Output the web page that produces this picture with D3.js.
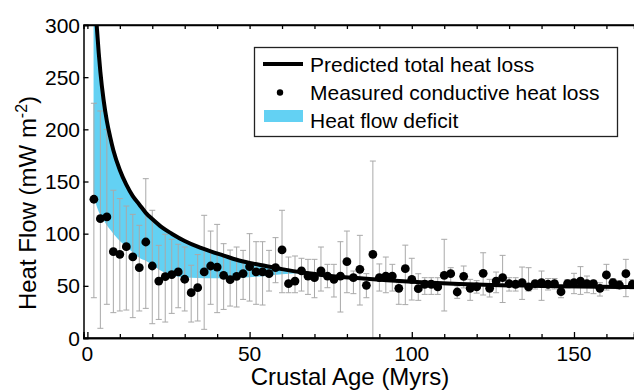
<!DOCTYPE html>
<html>
<head>
<meta charset="utf-8">
<script src="https://cdn.jsdelivr.net/npm/d3@7"></script>
<style>
  body { margin: 0; background: #fff; }
  svg { display: block; font-family: "Liberation Sans", Arial, sans-serif; }
  .tick-label { font-size: 21px; fill: #000; }
  .axis-title { font-size: 24px; fill: #000; }
  .legend-text { font-size: 21px; fill: #000; }
</style>
</head>
<body>
<svg id="chart"></svg>
<script>
// HEAT FLOW VS CRUSTAL AGE

// MEASURED CONDUCTIVE HEAT LOSS (binned means, 2 Myr bins)
var ages = [2, 4, 6, 8, 10, 12, 14, 16, 18, 20, 22, 24, 26, 28, 30, 32, 34, 36, 38, 40,
	42, 44, 46, 48, 50, 52, 54, 56, 58, 60, 62, 64, 66, 68, 70, 72, 74, 76, 78, 80,
	82, 84, 86, 88, 90, 92, 94, 96, 98, 100, 102, 104, 106, 108, 110, 112, 114, 116, 118, 120,
	122, 124, 126, 128, 130, 132, 134, 136, 138, 140, 142, 144, 146, 148, 150, 152, 154, 156, 158, 160,
	162, 164, 166, 168];
var measured = [133, 114.4, 116, 82.7, 80.2, 87.5, 77.7, 67.4, 92, 69, 54.6, 58.8, 60.7, 63.3, 56.3, 43.4, 48.2, 63.3, 69, 68,
	60.1, 55.9, 59.1, 61.7, 68.4, 63.3, 63.3, 61.7, 67.5, 84.4, 52.1, 54.6, 64.3, 59.4, 57.8, 64.3, 59.4, 56.2, 59.4, 73.2,
	57.8, 65.8, 50.5, 80.2, 57.8, 59.4, 59.4, 47.6, 66.4, 56.2, 47.3, 51.5, 51.5, 49, 60.1, 61.7, 44.1, 59.1, 47.6, 49,
	62, 47.6, 54.6, 57.8, 52.1, 51.5, 53.1, 49, 52.1, 53.1, 51.5, 52.1, 44.4, 52.1, 53.1, 54.6, 52.1, 52.1, 47.6, 60.4,
	53.1, 50.8, 61.7, 51.5];
var errHigh = [225, 217.6, 200, 141.6, 133.6, 126.5, 118.5, 108, 152.7, 122.4, 88.8, 99.4, 94.6, 89.8, 87.2, 69.7, 80, 117.6, 102.5, 108.9,
	90.4, 84.3, 87.2, 84, 100, 92.3, 92.3, 84, 96.2, 122.4, 77.6, 78.6, 76.4, 75.4, 75.4, 87.2, 70.6, 70.6, 92.3, 102.5,
	64.2, 98.4, 61.7, 169.6, 71, 77.6, 70.6, 53, 89, 76.4, 61.6, 57.8, 57.8, 57.8, 94.6, 67.4, 50, 69, 56.2, 55,
	81.7, 56.2, 63.2, 79.2, 57.8, 57.8, 68, 67.4, 54, 64.2, 57, 57, 50, 56, 62, 68.4, 59.4, 55.3, 53, 70.6,
	57, 55, 75.4, 56];
var errLow = [38.6, 9.3, 32.3, 24.3, 25.9, 26.8, 19.5, 25.9, 28.4, 13.7, 17.8, 15.3, 23.6, 29, 25.9, 15.3, 16.3, 8.3, 32.3, 24.3,
	27.4, 30.6, 29.7, 37, 35.4, 32.3, 31.6, 45, 53, 43.4, 43.4, 43.4, 45, 41.8, 38.6, 45, 48.2, 39.3, 24.9, 43.4,
	42.5, 31.6, 38.6, -1, 45, 43.4, 45, 32.3, 32, 36.4, 36.1, 41.8, 41.8, 41.8, 25.9, 53, 38, 48, 36.1, 43,
	41.2, 39.3, 43.4, 34, 45, 45, 37, 45, 47, 36.1, 46, 47, 38.6, 48, 42.5, 41.8, 43.4, 42.5, 40.2, 46,
	49, 47, 39.6, 47];

// PREDICTED TOTAL HEAT LOSS
var predAges = [1.9, 2.8, 3, 3.5, 4, 5, 6, 7, 8, 10, 12, 14, 16, 18, 20, 23, 26, 30, 34, 38,
	42, 46, 50, 55, 60, 67, 75, 85, 100, 120, 140, 170];
var predFlow = [370, 303, 294, 273, 255, 228, 208, 193, 180, 161, 147, 136, 128, 120, 114, 106, 100, 93, 87.5, 83,
	79, 75, 72, 69, 66, 62.5, 59.5, 57, 54, 51.3, 49.8, 48.8];

// LOWER EDGE OF THE DEFICIT BAND (same ages as predAges, up to 67 Myr)
var deficitLow = [140, 127, 125, 121, 118, 113, 108, 104, 100, 93, 88, 82, 77, 74, 70, 64, 60.5, 58, 57.5, 57.3,
	57.3, 57.6, 58.2, 59.5, 61, 62.5];

// TICKS
var xTicksMajor = [0, 50, 100, 150];
var xTicksMinor = [10, 20, 30, 40, 60, 70, 80, 90, 110, 120, 130, 140, 160];
var yTicks = [0, 50, 100, 150, 200, 250, 300];

var legendLabels = ["Predicted total heat loss", "Measured conductive heat loss", "Heat flow deficit"];

// DRAWING AREA
var width = 634;
var height = 391;
var plotLeft = 83.5;
var plotRight = 634;
var plotTop = 25;
var plotBottom = 338;
var blue = "#63d1f3";

var svg = d3.select("#chart")
	.attr("width", width)
	.attr("height", height);

var xScale = d3.scaleLinear()
	.domain([-1.2, 168.5])
	.range([plotLeft, plotRight]);

var yScale = d3.scaleLinear()
	.domain([0, 300])
	.range([plotBottom, plotTop]);

svg.append("defs").append("clipPath")
	.attr("id", "plotclip")
	.append("rect")
	.attr("x", plotLeft)
	.attr("y", plotTop)
	.attr("width", plotRight - plotLeft)
	.attr("height", plotBottom - plotTop);

var plot = svg.append("g").attr("clip-path", "url(#plotclip)");

// DEFICIT AREA
var deficit = deficitLow.map(function(d, i) {
	return { age: predAges[i], top: predFlow[i], low: d };
});

var area = d3.area()
	.x(function(d) { return xScale(d.age); })
	.y0(function(d) { return yScale(d.low); })
	.y1(function(d) { return yScale(d.top); })
	.curve(d3.curveMonotoneX);

plot.append("path")
	.datum(deficit)
	.attr("d", area)
	.style("fill", blue)
	.style("stroke", "none");

// ERROR BARS
var points = ages.map(function(a, i) {
	return { age: a, flow: measured[i], hi: errHigh[i], lo: errLow[i] };
});

var bars = plot.selectAll("g.errbar")
	.data(points)
	.enter()
	.append("g")
	.attr("class", "errbar")
	.style("stroke", "#a9a9a9")
	.style("stroke-width", 1);

bars.append("line")
	.attr("x1", function(d) { return xScale(d.age); })
	.attr("x2", function(d) { return xScale(d.age); })
	.attr("y1", function(d) { return yScale(d.hi); })
	.attr("y2", function(d) { return yScale(d.lo); });

bars.append("line")
	.attr("x1", function(d) { return xScale(d.age) - 3; })
	.attr("x2", function(d) { return xScale(d.age) + 3; })
	.attr("y1", function(d) { return yScale(d.hi); })
	.attr("y2", function(d) { return yScale(d.hi); });

bars.append("line")
	.attr("x1", function(d) { return xScale(d.age) - 3; })
	.attr("x2", function(d) { return xScale(d.age) + 3; })
	.attr("y1", function(d) { return yScale(d.lo); })
	.attr("y2", function(d) { return yScale(d.lo); });

// PREDICTED LINE
var line = d3.line()
	.x(function(d, i) { return xScale(predAges[i]); })
	.y(function(d) { return yScale(d); })
	.curve(d3.curveMonotoneX);

plot.append("path")
	.datum(predFlow)
	.attr("d", line)
	.style("fill", "none")
	.style("stroke", "#000")
	.style("stroke-width", 4);

// MEASURED POINTS
plot.selectAll("circle")
	.data(points)
	.enter()
	.append("circle")
	.attr("cx", function(d) { return xScale(d.age); })
	.attr("cy", function(d) { return yScale(d.flow); })
	.attr("r", 4.4)
	.style("fill", "#000");

// AXES (frame with inward ticks)
var xAxisMajor = d3.axisBottom(xScale).tickValues(xTicksMajor).tickSize(-6).tickFormat("");
var xAxisMinor = d3.axisBottom(xScale).tickValues(xTicksMinor).tickSize(-4).tickFormat("");
var xAxisTop = d3.axisTop(xScale).tickValues(xTicksMajor.concat(xTicksMinor)).tickSize(-4).tickFormat("");
var yAxis = d3.axisLeft(yScale).tickValues(yTicks).tickSize(-5).tickFormat("");

function styleAxis(g) {
	g.select(".domain").style("stroke", "#000").style("stroke-width", 1.5);
	g.selectAll(".tick line").style("stroke", "#000").style("stroke-width", 1.3);
}

svg.append("g").attr("transform", "translate(0," + plotBottom + ")").call(xAxisMinor).call(styleAxis);
svg.append("g").attr("transform", "translate(0," + plotBottom + ")").call(xAxisMajor).call(styleAxis);
svg.append("g").attr("transform", "translate(0," + plotTop + ")").call(xAxisTop).call(styleAxis);
svg.append("g").attr("transform", "translate(" + plotLeft + ",0)").call(yAxis).call(styleAxis);

// frame lines across the full plot
svg.append("line")
	.attr("x1", plotLeft).attr("x2", plotRight)
	.attr("y1", plotBottom).attr("y2", plotBottom)
	.style("stroke", "#000").style("stroke-width", 1.5);
svg.append("line")
	.attr("x1", plotLeft).attr("x2", plotRight)
	.attr("y1", plotTop).attr("y2", plotTop)
	.style("stroke", "#000").style("stroke-width", 1.5);

// TICK LABELS
svg.selectAll("text.xlab")
	.data(xTicksMajor)
	.enter()
	.append("text")
	.attr("class", "tick-label")
	.attr("x", function(d) { return xScale(d); })
	.attr("y", 361)
	.attr("text-anchor", "middle")
	.text(function(d) { return d; });

svg.selectAll("text.ylab")
	.data(yTicks)
	.enter()
	.append("text")
	.attr("class", "tick-label")
	.attr("x", 80)
	.attr("y", function(d) { return yScale(d); })
	.attr("dy", "0.36em")
	.attr("text-anchor", "end")
	.text(function(d) { return d; });

// AXIS TITLES
svg.append("text")
	.attr("class", "axis-title")
	.attr("x", 350)
	.attr("y", 385)
	.attr("text-anchor", "middle")
	.text("Crustal Age (Myrs)");

var yTitle = svg.append("text")
	.attr("class", "axis-title")
	.attr("text-anchor", "middle")
	.attr("transform", "translate(36,203) rotate(-90)");
yTitle.append("tspan").text("Heat Flow (mW m");
yTitle.append("tspan").attr("dy", -9).style("font-size", "16px").text("-2");
yTitle.append("tspan").attr("dy", 9).text(")");

// LEGEND
var legend = svg.append("g");

legend.append("rect")
	.attr("x", 254.5)
	.attr("y", 47.5)
	.attr("width", 363)
	.attr("height", 89)
	.style("fill", "#fff")
	.style("stroke", "#222")
	.style("stroke-width", 1.3);

legend.append("line")
	.attr("x1", 263).attr("x2", 303)
	.attr("y1", 64).attr("y2", 64)
	.style("stroke", "#000").style("stroke-width", 4);

legend.append("circle")
	.attr("cx", 280).attr("cy", 92.5)
	.attr("r", 3.2)
	.style("fill", "#000");

legend.append("rect")
	.attr("x", 264).attr("y", 110)
	.attr("width", 39).attr("height", 12)
	.style("fill", blue);

legend.selectAll("text")
	.data(legendLabels)
	.enter()
	.append("text")
	.attr("class", "legend-text")
	.attr("x", 310)
	.attr("y", function(d, i) { return 71.5 + i * 28; })
	.text(function(d) { return d; });
</script>
</body>
</html>
